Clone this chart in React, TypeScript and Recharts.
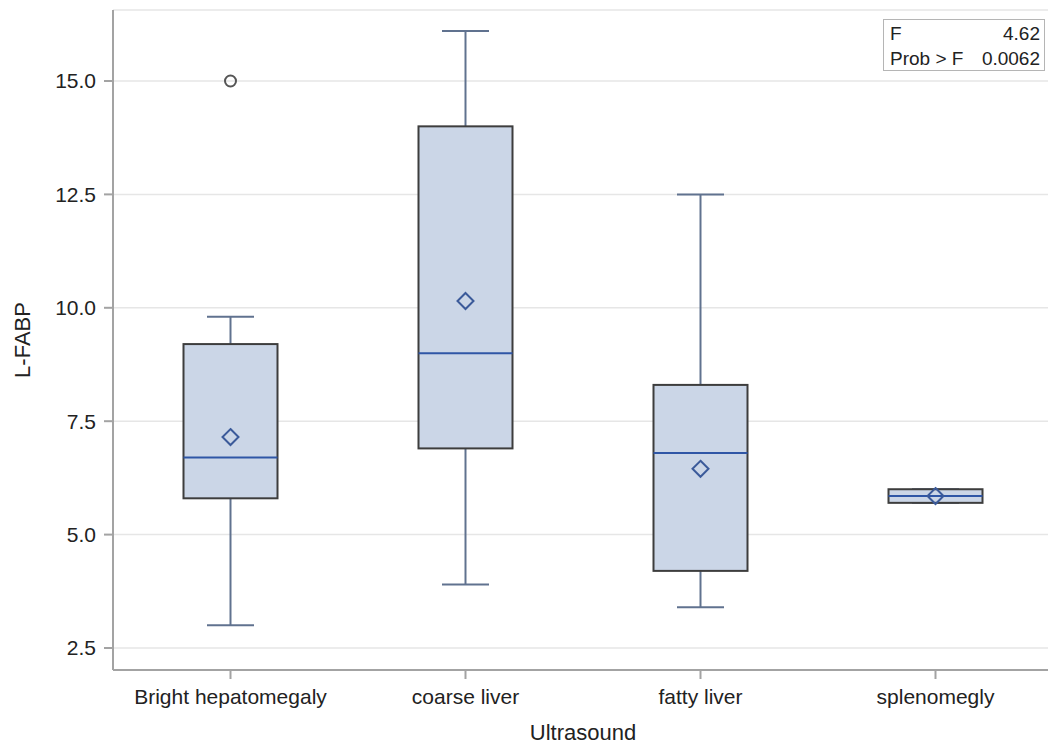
import React from 'react';
import { ComposedChart, Bar, XAxis, YAxis, CartesianGrid, Label } from 'recharts';

// L-FABP by ultrasound finding (box plot values)
const categories = ['Bright hepatomegaly', 'coarse liver', 'fatty liver', 'splenomegly'];
const whiskerLow = [3.0, 3.9, 3.4, 5.7];
const q1 = [5.8, 6.9, 4.2, 5.7];
const median = [6.7, 9.0, 6.8, 5.85];
const q3 = [9.2, 14.0, 8.3, 6.0];
const whiskerHigh = [9.8, 16.1, 12.5, 6.0];
const means = [7.15, 10.15, 6.45, 5.85];
const outliers: number[][] = [[15.0], [], [], []];
const yTicks = [2.5, 5.0, 7.5, 10.0, 12.5, 15.0];
const yDomain = [2.015, 16.565];

const FONT = '"Liberation Sans", Arial, sans-serif';
const FRAME = '#a3a3a3';

const data = categories.map((name, i) => {
  const lo = Math.min(whiskerLow[i], ...outliers[i]);
  const hi = Math.max(whiskerHigh[i], ...outliers[i]);
  return {
    name,
    range: [lo, hi],
    lo,
    hi,
    wLow: whiskerLow[i],
    q1: q1[i],
    med: median[i],
    q3: q3[i],
    wHigh: whiskerHigh[i],
    mean: means[i],
    out: outliers[i],
  };
});

// draws whiskers, box, median, mean and outliers inside the bar's range rectangle
const BoxShape = (props: any) => {
  const { x, y, width, height, payload } = props;
  if (!payload) return null;
  const top = Math.min(y, y + height);
  const bottom = Math.max(y, y + height);
  const span = payload.hi - payload.lo || 1;
  const py = (v: number) => bottom - ((v - payload.lo) / span) * (bottom - top);
  const cx = x + width / 2;
  const cap = width / 4;
  const yq1 = py(payload.q1);
  const yq3 = py(payload.q3);
  const ym = py(payload.mean);
  const d = 8;
  return (
    <g>
      <line x1={cx} x2={cx} y1={py(payload.wHigh)} y2={yq3} stroke="#60728f" strokeWidth={2} />
      <line x1={cx} x2={cx} y1={yq1} y2={py(payload.wLow)} stroke="#60728f" strokeWidth={2} />
      <line x1={cx - cap} x2={cx + cap} y1={py(payload.wHigh)} y2={py(payload.wHigh)} stroke="#60728f" strokeWidth={2} />
      <line x1={cx - cap} x2={cx + cap} y1={py(payload.wLow)} y2={py(payload.wLow)} stroke="#60728f" strokeWidth={2} />
      <rect x={x} y={yq3} width={width} height={Math.max(yq1 - yq3, 1)} fill="#cbd6e7" stroke="#3d3d3d" strokeWidth={2} />
      <line x1={x} x2={x + width} y1={py(payload.med)} y2={py(payload.med)} stroke="#2f56a6" strokeWidth={2} />
      <path
        d={`M${cx},${ym - d} L${cx + d},${ym} L${cx},${ym + d} L${cx - d},${ym} Z`}
        fill="none"
        stroke="#3b5a9a"
        strokeWidth={2}
      />
      {payload.out.map((v: number, k: number) => (
        <circle key={k} cx={cx} cy={py(v)} r={5.5} fill="none" stroke="#555" strokeWidth={2} />
      ))}
    </g>
  );
};

export default function App() {
  return (
    <div
      style={{
        position: 'absolute',
        left: 0,
        top: 0,
        width: 1048,
        height: 744,
        overflow: 'hidden',
        background: '#fff',
      }}
    >
      <ComposedChart
        width={1060}
        height={744}
        data={data}
        margin={{ top: 10, right: 7, bottom: 0, left: 0 }}
        barCategoryGap="30%"
        style={{ fontFamily: FONT }}
      >
        <CartesianGrid vertical={false} stroke="#e6e6e6" strokeWidth={1.5} />
        <XAxis
          dataKey="name"
          height={74}
          tickSize={9}
          tickMargin={10}
          axisLine={{ stroke: FRAME, strokeWidth: 2 }}
          tickLine={{ stroke: FRAME, strokeWidth: 2 }}
          tick={{ fill: '#222', fontSize: 21, fontFamily: FONT }}
          interval={0}
        >
          <Label value="Ultrasound" position="insideBottom" offset={4} style={{ fill: '#222', fontSize: 22, fontFamily: FONT }} />
        </XAxis>
        <XAxis
          xAxisId="top"
          dataKey="name"
          orientation="top"
          height={0}
          tick={false}
          tickLine={false}
          axisLine={{ stroke: FRAME, strokeWidth: 2 }}
        />
        <YAxis
          type="number"
          domain={yDomain}
          ticks={yTicks}
          allowDataOverflow
          width={113}
          tickSize={9}
          tickMargin={8}
          tickFormatter={(v: number) => v.toFixed(1)}
          axisLine={{ stroke: FRAME, strokeWidth: 2 }}
          tickLine={{ stroke: FRAME, strokeWidth: 2 }}
          tick={{ fill: '#222', fontSize: 21, fontFamily: FONT }}
        >
          <Label
            value="L-FABP"
            angle={-90}
            position="insideLeft"
            offset={22}
            style={{ textAnchor: 'middle', fill: '#222', fontSize: 22, fontFamily: FONT }}
          />
        </YAxis>
        <Bar dataKey="range" shape={BoxShape} isAnimationActive={false} />
      </ComposedChart>
      <div
        style={{
          position: 'absolute',
          left: 883,
          top: 19,
          width: 162,
          height: 52,
          border: '1.5px solid #b5b5b5',
          background: '#fff',
          fontFamily: FONT,
          fontSize: 19,
          color: '#222',
          boxSizing: 'border-box',
          padding: '1px 4px 0 6px',
          lineHeight: '25px',
        }}
      >
        <div style={{ display: 'flex', justifyContent: 'space-between' }}>
          <span>F</span>
          <span>4.62</span>
        </div>
        <div style={{ display: 'flex', justifyContent: 'space-between' }}>
          <span>Prob &gt; F</span>
          <span>0.0062</span>
        </div>
      </div>
    </div>
  );
}
